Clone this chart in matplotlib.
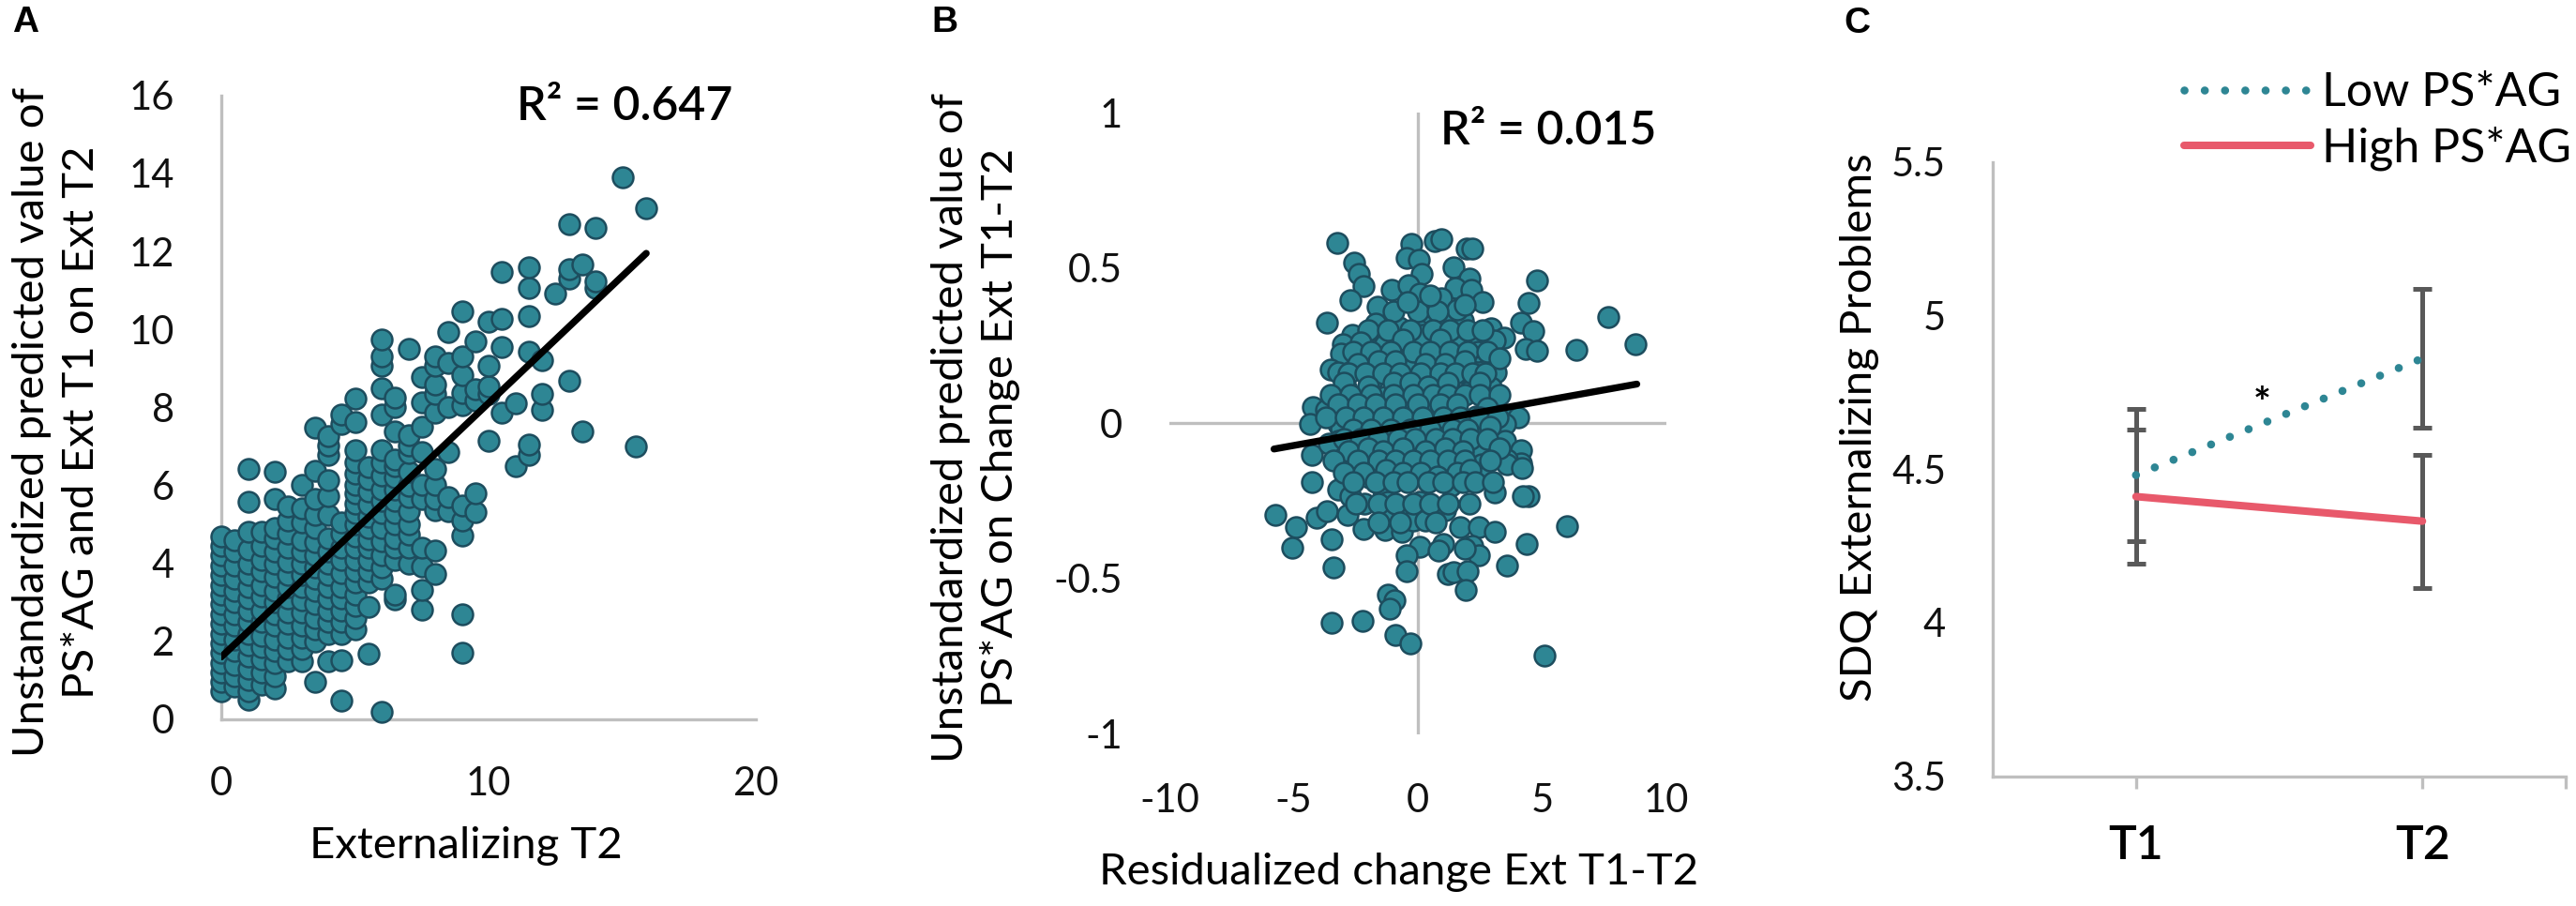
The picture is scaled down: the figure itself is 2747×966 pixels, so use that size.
import numpy as np
import matplotlib
matplotlib.use('Agg')
import matplotlib.pyplot as plt

plt.rcParams['font.family'] = ['Lato', 'DejaVu Sans']

# ---- Panel A: predicted value vs Externalizing T2 (points stacked per score) ----
a_col_x = [0, 0.5, 1, 1.5, 2, 2.5, 3, 3.5, 4, 4.5, 5, 5.5, 6, 6.5, 7, 7.5, 8,
           8.5, 9, 9.5, 10, 10.5, 11, 11.5, 12, 12.5, 13, 13.5, 14, 15, 15.5, 15.9]
a_col_y = [
    [0.72, 0.95, 1.2, 1.45, 1.7, 1.95, 2.2, 2.45, 2.7, 2.95, 3.2, 3.45, 3.7, 3.95, 4.2, 4.45, 4.7],
    [0.85, 1.1, 1.4, 1.75, 2.05, 2.4, 2.7, 3.0, 3.3, 3.6, 3.95, 4.3, 4.6],
    [0.5, 0.72, 1.0, 1.3, 1.6, 1.9, 2.2, 2.5, 2.8, 3.1, 3.4, 3.7, 4.0, 4.35, 4.8, 5.57, 6.43],
    [0.9, 1.2, 1.55, 1.85, 2.15, 2.5, 2.8, 3.15, 3.45, 3.8, 4.1, 4.45, 4.8],
    [0.8, 1.1, 1.45, 1.75, 2.05, 2.4, 2.7, 3.0, 3.3, 3.65, 4.0, 4.3, 4.65, 4.9, 5.65, 6.34],
    [1.5, 1.8, 2.1, 2.45, 2.75, 3.1, 3.4, 3.7, 4.05, 4.4, 4.75, 5.1, 5.45],
    [1.5, 1.8, 2.1, 2.4, 2.75, 3.05, 3.4, 3.7, 4.0, 4.3, 4.6, 5.05, 5.4, 6.01],
    [0.96, 2.0, 2.3, 2.6, 2.95, 3.3, 3.6, 3.9, 4.2, 4.55, 4.9, 5.25, 5.65, 6.38, 7.47],
    [1.5, 2.2, 2.5, 2.8, 3.1, 3.4, 3.7, 4.0, 4.3, 4.65, 5.25, 5.73, 6.13, 6.78, 7.02, 7.26],
    [0.48, 1.52, 2.2, 2.5, 2.8, 3.1, 3.4, 3.75, 4.1, 4.4, 4.75, 5.05, 7.58, 7.82],
    [2.3, 2.6, 2.9, 3.2, 3.5, 3.8, 4.1, 4.4, 4.7, 5.0, 5.3, 5.53, 5.8, 6.01, 6.3, 6.58, 6.9, 7.62, 8.22],
    [1.68, 2.89, 3.5, 3.8, 4.1, 4.4, 4.61, 4.9, 5.2, 5.5, 5.85, 6.15, 6.46],
    [0.2, 3.6, 3.9, 4.2, 4.57, 4.9, 5.29, 5.6, 5.9, 6.26, 6.6, 6.9, 7.82, 8.5, 9.06, 9.3, 9.74],
    [3.09, 3.21, 4.1, 4.4, 4.65, 5.0, 5.29, 5.6, 5.9, 6.2, 6.5, 6.66, 7.38, 8.02, 8.26],
    [4.0, 4.4, 4.73, 5.0, 5.35, 5.69, 6.0, 6.34, 6.82, 7.02, 7.29, 9.5],
    [2.81, 3.33, 3.93, 4.41, 5.65, 6.01, 6.86, 7.5, 8.14, 8.78],
    [3.73, 4.33, 5.37, 5.65, 6.01, 6.42, 7.86, 8.34, 8.58, 9.06, 9.3],
    [5.33, 5.69, 6.86, 8.02, 9.14, 9.94],
    [1.7, 2.69, 4.72, 5.09, 5.49, 8.06, 8.38, 8.82, 9.3, 10.47],
    [5.31, 5.79, 8.18, 8.46, 9.69],
    [7.15, 8.34, 8.54, 9.06, 10.2],
    [7.86, 9.54, 10.26, 11.47],
    [6.5, 8.1],
    [6.78, 7.04, 9.42, 10.34, 11.07, 11.59],
    [7.94, 8.34, 9.22],
    [10.91],
    [8.68, 11.31, 11.55, 12.69],
    [7.38, 11.67],
    [11.07, 11.23, 12.59],
    [13.91],
    [6.99],
    [13.11],
]
a_fit_x = [0, 15.9]
a_fit_y = [1.6, 11.95]

# ---- Panel B: predicted change vs residualized change ----
b_pairs = [
    (-3.23, 0.579), (-2.58, 0.517), (-2.39, 0.481), (-2.2, 0.441), (-2.73, 0.396), (-3.65, 0.325),
    (-0.25, 0.577), (-0.44, 0.532), (0.04, 0.527), (0.16, 0.481), (0.67, 0.587), (0.94, 0.592),
    (1.95, 0.562), (2.2, 0.562), (1.45, 0.502), (2.08, 0.466), (-1.04, 0.428), (-0.38, 0.446),
    (0.09, 0.418), (1.51, 0.436), (2.14, 0.428), (2.6, 0.391), (0.94, 0.401), (4.78, 0.461),
    (4.44, 0.388), (4.15, 0.323), (4.65, 0.297), (4.34, 0.24), (4.78, 0.233), (6.38, 0.237),
    (7.67, 0.343), (8.77, 0.255), (-1.64, 0.376), (-1.7, 0.32), (-0.75, 0.31), (0.19, 0.335),
    (1.26, 0.335), (1.82, 0.33), (0.5, 0.355), (1.57, 0.366), (2.93, 0.305), (3.46, 0.275),
    (3.08, 0.265), (2.33, 0.265), (1.7, 0.25), (1.07, 0.214), (0.38, 0.23), (0.19, 0.285),
    (-2.64, 0.285), (-3.02, 0.255), (-3.08, 0.225), (-3.52, 0.174), (-3.21, 0.164), (-2.26, 0.199),
    (-1.82, 0.235), (-1.32, 0.255), (-0.82, 0.26), (-1.82, 0.144), (-1.32, 0.174), (-0.5, 0.184),
    (-2.89, 0.114), (-2.33, 0.084), (0.63, 0.159), (0.06, 0.109), (1.45, 0.094), (0.57, 0.084),
    (-0.57, 0.074), (-1.32, 0.084), (1.7, 0.164), (2.33, 0.184), (3.14, 0.164), (2.96, 0.114),
    (2.96, 0.079), (2.08, 0.104), (-4.21, 0.053), (-3.71, 0.043), (-4.34, -0.002), (-3.21, -0.002),
    (-2.7, 0.023), (-2.2, 0.048), (3.84, 0.028), (4.03, 0.018), (3.52, -0.002), (3.02, -0.047),
    (3.52, -0.057), (4.15, -0.088), (4.15, -0.128), (3.59, -0.118), (-4.28, -0.103),
    (-2.7, -0.123), (-2.01, -0.116), (-1.19, -0.088), (-0.38, -0.093), (0.13, -0.052), (0.57, -0.088),
    (0.94, -0.098), (1.57, -0.073), (2.33, -0.032), (2.45, -0.103), (2.58, -0.133),
    (-1.45, -0.017), (-0.82, 0.003), (0.06, 0.003), (1.07, -0.007), (1.82, -0.017),
    (1.32, 0.038), (2.33, 0.023), (-1.45, 0.043), (-0.57, 0.043), (0.44, 0.043),
    (-3.08, -0.017), (-3.21, -0.057), (-3.58, -0.067),
    (-4.28, -0.188), (-5.72, -0.296), (-4.91, -0.334), (-5.07, -0.4), (-4.09, -0.304), (-3.65, -0.284),
    (-3.46, -0.373), (-3.4, -0.465), (-3.48, -0.642), (-2.23, -0.637),
    (-3.21, -0.213), (-2.7, -0.234), (-2.14, -0.259), (-2.83, -0.294), (-2.2, -0.339),
    (-1.95, -0.173), (-1.38, -0.213), (-0.94, -0.173), (-1.19, -0.254), (-1.07, -0.294),
    (-1.32, -0.344), (-0.63, -0.349), (-0.44, -0.269), (0.06, -0.254), (-0.19, -0.314), (0.31, -0.314),
    (0.06, -0.397), (-0.44, -0.425), (-0.47, -0.477), (-1.19, -0.551), (-0.94, -0.571), (-1.13, -0.596),
    (-0.92, -0.682), (-0.31, -0.709), (0.31, -0.153), (1.07, -0.148), (1.32, -0.203), (2.58, -0.173),
    (3.08, -0.224), (3.59, -0.133), (4.19, -0.143), (4.47, -0.234), (4.21, -0.234),
    (1.11, -0.279), (2.08, -0.259), (1.7, -0.334), (2.45, -0.334), (3.11, -0.349),
    (1.01, -0.39), (0.82, -0.41), (2.2, -0.395), (2.45, -0.425), (1.89, -0.405),
    (4.36, -0.39), (6.01, -0.332), (3.58, -0.457), (1.19, -0.485), (1.45, -0.48), (2.01, -0.475),
    (1.92, -0.538), (5.09, -0.747),
    # dense middle of the cloud
    (-1.0, 0.36), (0.0, 0.36), (0.8, 0.36), (-0.4, 0.39), (0.5, 0.41), (1.9, 0.38),
    (-2.0, 0.30), (-1.2, 0.30), (-0.3, 0.30), (0.6, 0.30), (1.3, 0.30), (2.0, 0.30), (2.6, 0.30),
    (-2.3, 0.26), (-0.6, 0.27), (0.9, 0.27), (2.4, 0.23),
    (-2.6, 0.23), (-1.9, 0.23), (-1.1, 0.23), (-0.2, 0.23), (0.5, 0.23), (1.3, 0.23), (2.0, 0.23), (2.8, 0.23),
    (-2.4, 0.19), (-1.6, 0.20), (-0.9, 0.20), (0.3, 0.19), (1.1, 0.19), (1.9, 0.20), (3.3, 0.21),
    (-2.8, 0.16), (-2.1, 0.16), (-1.4, 0.16), (-0.7, 0.16), (0.1, 0.16), (0.9, 0.16), (1.5, 0.16),
    (2.2, 0.16), (2.7, 0.16),
    (-3.0, 0.13), (-2.0, 0.12), (-1.0, 0.13), (-0.3, 0.13), (0.4, 0.12), (1.2, 0.13), (2.5, 0.13),
    (-3.5, 0.09), (-2.7, 0.09), (-1.9, 0.09), (-1.0, 0.09), (-0.2, 0.09), (0.6, 0.09), (1.2, 0.09),
    (1.9, 0.09), (2.5, 0.09), (3.3, 0.09),
    (-3.2, 0.06), (-2.4, 0.06), (-1.7, 0.06), (-0.9, 0.06), (0.0, 0.06), (0.9, 0.06), (1.6, 0.06),
    (2.8, 0.05),
    (-3.7, 0.02), (-2.9, 0.02), (-2.2, 0.02), (-1.4, 0.02), (-0.6, 0.02), (0.2, 0.02), (1.0, 0.02),
    (1.7, 0.02), (2.5, 0.02), (3.2, 0.02),
    (-2.6, -0.02), (-1.9, -0.02), (-1.1, -0.02), (-0.3, -0.02), (0.5, -0.02), (1.4, -0.02),
    (2.0, -0.02), (2.9, -0.01),
    (-3.0, -0.05), (-2.3, -0.05), (-1.6, -0.05), (-0.8, -0.05), (-0.1, -0.05), (0.7, -0.05),
    (1.4, -0.05), (2.1, -0.05), (2.8, -0.05),
    (-2.8, -0.09), (-2.0, -0.08), (-1.4, -0.09), (-0.6, -0.08), (0.3, -0.09), (1.1, -0.08),
    (1.8, -0.09), (3.3, -0.08),
    (-3.4, -0.12), (-2.4, -0.12), (-1.6, -0.12), (-0.9, -0.12), (-0.2, -0.12), (0.5, -0.12),
    (1.2, -0.12), (1.9, -0.12), (2.9, -0.12),
    (-3.0, -0.16), (-2.2, -0.16), (-1.3, -0.15), (-0.6, -0.16), (0.1, -0.16), (0.8, -0.17),
    (1.6, -0.16), (2.1, -0.15),
    (-2.6, -0.19), (-1.7, -0.19), (-1.0, -0.19), (-0.4, -0.19), (0.4, -0.19), (1.0, -0.19),
    (1.8, -0.19), (2.3, -0.19), (3.0, -0.19),
    (-2.5, -0.26), (-1.6, -0.26), (-0.9, -0.26), (-0.2, -0.26), (0.5, -0.26), (1.2, -0.26),
    (-1.6, -0.32), (-0.7, -0.32), (0.7, -0.32),
]
b_fit_x = [-5.79, 8.81]
b_fit_y = [-0.083, 0.126]

# ---- Panel C: SDQ externalizing means with error bars ----
c_times = ['T1', 'T2']
c_low = [4.48, 4.86]
c_low_err = [0.215, 0.227]
c_high = [4.41, 4.33]
c_high_err = [0.217, 0.217]

W, H = 2747, 966
fig = plt.figure(figsize=(W / 100, H / 100), dpi=100)


def box(x0, x1, y0, y1):
    # pixel box (top-left origin) -> figure fraction rect
    return [x0 / W, 1 - y1 / H, (x1 - x0) / W, (y1 - y0) / H]


teal = '#2E8694'
teal_edge = '#1D4D5E'
grey = '#BFBFBF'
pink = '#E8596B'
tick_font = dict(fontsize=30, fontweight='normal', color='#111111')
label_size = 34
msize = 250

# A
axA = fig.add_axes(box(236, 806, 101.7, 767))
a_x = [x for x, ys in zip(a_col_x, a_col_y) for _ in ys]
a_y = [y for ys in a_col_y for y in ys]
axA.scatter(a_x, a_y, s=msize, c=teal, edgecolors=teal_edge, linewidths=1.8, zorder=3, clip_on=False)
axA.plot(a_fit_x, a_fit_y, color='black', lw=5.3, solid_capstyle='round', zorder=4)
axA.set_xlim(0, 20)
axA.set_ylim(0, 16)
axA.set_xticks([0, 10, 20])
axA.set_yticks(range(0, 17, 2))
axA.set_xticklabels(['0', '10', '20'], **tick_font)
axA.set_yticklabels([str(v) for v in range(0, 17, 2)], **tick_font)
axA.tick_params(length=0, pad=36)
for s in ['top', 'right']:
    axA.spines[s].set_visible(False)
for s in ['left', 'bottom']:
    axA.spines[s].set_color(grey)
    axA.spines[s].set_linewidth(2.4)
fig.text(666 / W, 1 - 114 / H, 'R² = 0.647', fontsize=36,
         fontweight='semibold', ha='center', va='center')
fig.text(60.5 / W, 1 - 450 / H, 'Unstandardized predicted value of\nPS*AG and Ext T1 on Ext T2',
         rotation=90, ha='center', va='center', multialignment='center', fontsize=label_size,
         linespacing=1.3)
fig.text(497 / W, 1 - 902 / H, 'Externalizing T2', ha='center', va='center', fontsize=label_size)
fig.text(27 / W, 1 - 24 / H, 'A', ha='center', va='center', fontsize=28, fontweight='bold',
         family=['Liberation Sans', 'DejaVu Sans'])

# B
axB = fig.add_axes(box(1247, 1777, 120, 782.5))
b_x = [p[0] for p in b_pairs]
b_y = [p[1] for p in b_pairs]
axB.axhline(0, color=grey, lw=2.4, zorder=1)
axB.axvline(0, color=grey, lw=2.4, zorder=1)
axB.scatter(b_x, b_y, s=msize, c=teal, edgecolors=teal_edge, linewidths=1.8, zorder=3, clip_on=False)
axB.plot(b_fit_x, b_fit_y, color='black', lw=5.3, solid_capstyle='round', zorder=4)
axB.set_xlim(-10, 10)
axB.set_ylim(-1, 1)
axB.set_xticks([-10, -5, 0, 5, 10])
axB.set_xticklabels(['-10', '-5', '0', '5', '10'], **tick_font)
axB.set_yticks([-1, -0.5, 0, 0.5, 1])
axB.set_yticklabels(['-1', '-0.5', '0', '0.5', '1'], **tick_font)
axB.tick_params(length=0)
axB.tick_params(axis='x', pad=38)
axB.tick_params(axis='y', pad=36)
for s in axB.spines.values():
    s.set_visible(False)
fig.text(1651.5 / W, 1 - 139 / H, 'R² = 0.015', fontsize=36, fontweight='semibold',
         ha='center', va='center')
fig.text(1040.5 / W, 1 - 456 / H, 'Unstandardized predicted value of\nPS*AG on Change Ext T1-T2',
         rotation=90, ha='center', va='center', multialignment='center', fontsize=label_size,
         linespacing=1.3)
fig.text(1492 / W, 1 - 930 / H, 'Residualized change Ext T1-T2', ha='center', va='center',
         fontsize=label_size)
fig.text(1007 / W, 1 - 24 / H, 'B', ha='center', va='center', fontsize=28, fontweight='bold',
         family=['Liberation Sans', 'DejaVu Sans'])

# C
axC = fig.add_axes(box(2125, 2736, 172.5, 827.5))
pos = [1, 2]
axC.errorbar(pos, c_low, yerr=c_low_err, fmt='none', ecolor='#595959', elinewidth=3.6,
             capsize=7, capthick=3.6, zorder=2)
axC.errorbar(pos, c_high, yerr=c_high_err, fmt='none', ecolor='#595959', elinewidth=3.6,
             capsize=7, capthick=3.6, zorder=2)
ln_low, = axC.plot(pos, c_low, color=teal, lw=6.2, linestyle=(0, (0.01, 2.5)),
                   dash_capstyle='round', zorder=3, label='Low PS*AG')
ln_high, = axC.plot(pos, c_high, color=pink, lw=5.8, solid_capstyle='round', zorder=3,
                    label='High PS*AG')
axC.text(1.44, 4.71, '*', fontsize=32, fontweight='bold', ha='center', va='center')
axC.set_xlim(0.5, 2.5)
axC.set_ylim(3.5, 5.5)
axC.set_xticks(pos)
axC.set_xticklabels(c_times, fontsize=36, fontweight='semibold')
axC.set_xticks([2.5], minor=True)
axC.set_yticks([3.5, 4, 4.5, 5, 5.5])
axC.set_yticklabels(['3.5', '4', '4.5', '5', '5.5'], **tick_font)
axC.tick_params(axis='x', which='both', length=9, width=2.4, color=grey, pad=28)
axC.tick_params(axis='y', length=0, pad=36)
for s in ['top', 'right']:
    axC.spines[s].set_visible(False)
for s in ['left', 'bottom']:
    axC.spines[s].set_color(grey)
    axC.spines[s].set_linewidth(2.4)
fig.text(1983 / W, 1 - 456 / H, 'SDQ Externalizing Problems', rotation=90, ha='center',
         va='center', fontsize=label_size)
fig.legend(handles=[ln_low, ln_high], loc='upper left', bbox_to_anchor=(2329 / W, 1 - 76 / H),
           frameon=False, fontsize=36, handlelength=2.7, handletextpad=0.25,
           labelspacing=0.25, borderpad=0, borderaxespad=0)
fig.text(1980 / W, 1 - 25 / H, 'C', ha='center', va='center', fontsize=28, fontweight='bold',
         family=['Liberation Sans', 'DejaVu Sans'])

fig.savefig('out.png', dpi=100)
